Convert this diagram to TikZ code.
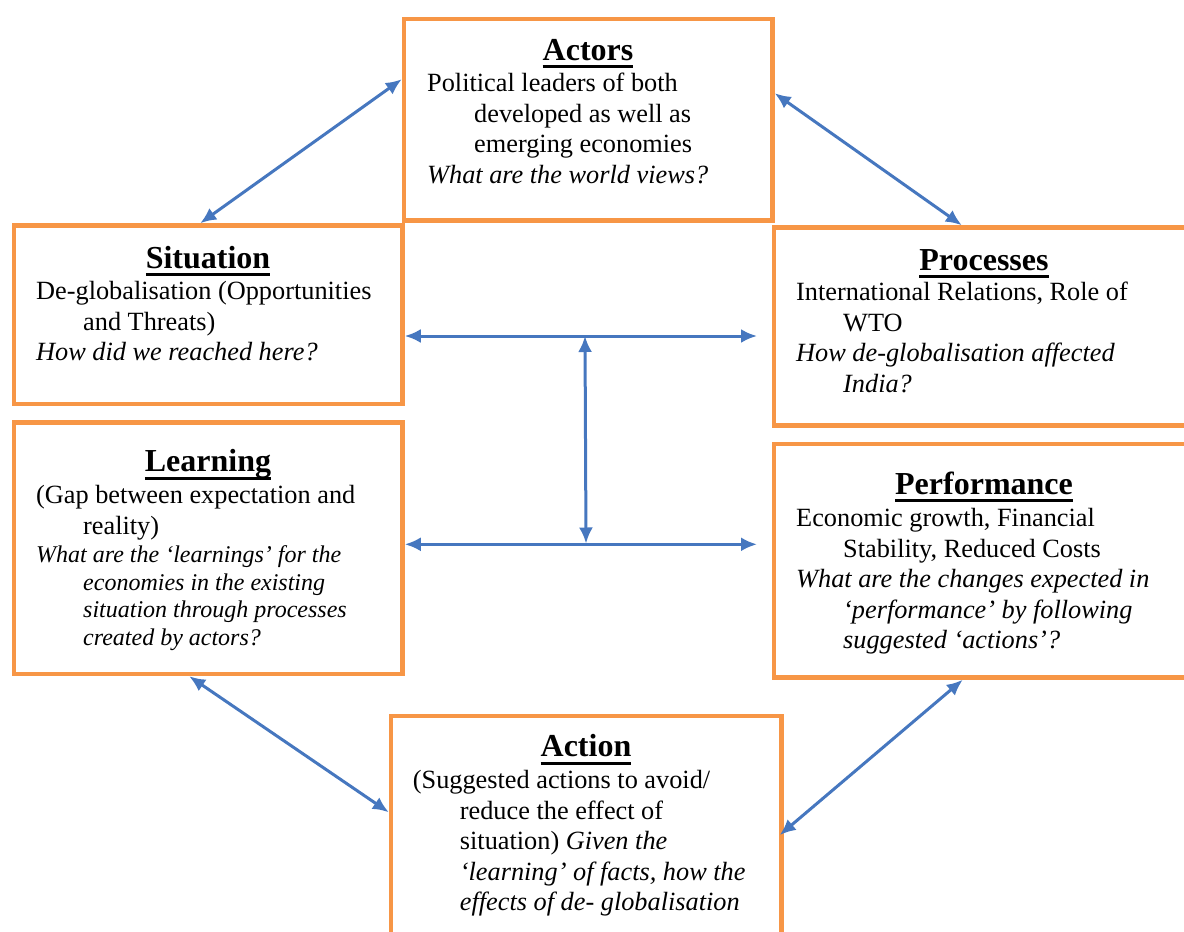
\documentclass[tikz,border=0pt]{standalone}
\usepackage{fontspec}
\setmainfont{Liberation Serif}
\usepackage{xcolor}
\usepackage{tikz}
\usetikzlibrary{arrows.meta,positioning}

\definecolor{boxorange}{HTML}{F79646}
\definecolor{linkblue}{HTML}{4677BF}

\newcommand{\headline}[1]{\setbox0=\hbox{#1}\rlap{\rule[-8bp]{\wd0}{3bp}}\box0}
\newcommand{\hangin}{\hspace*{47bp}}
\newcommand{\learnfont}{\fontsize{24bp}{27.5bp}\selectfont\itshape}

\begin{document}
\begin{tikzpicture}[x=1bp, y=-1bp, >={Latex[length=16bp,width=14bp]}]
 \tikzstyle{boxframe}=[draw=boxorange, line width=4.5bp, inner sep=0pt]
 \tikzstyle{headtext}=[font=\fontsize{32bp}{36bp}\selectfont\bfseries, anchor=base, inner sep=0pt]
 \tikzstyle{body}=[font=\fontsize{26.3bp}{30.5bp}\selectfont, align=left, anchor=north west, inner sep=0pt]
 \tikzstyle{twoway}=[<->, draw=linkblue, line width=3bp]

 \useasboundingbox (0,0) rectangle (1184,932);
 \clip (0,0) rectangle (1184,932);

 % the six boxes (right and bottom ones run off the page)
 \node[boxframe, minimum width=368.5bp, minimum height=201.5bp] (actors) at (588.25,119.75) {};
 \node[boxframe, minimum width=388.5bp, minimum height=178.5bp] (situation) at (208.25,314.75) {};
 \node[boxframe, minimum width=426bp, minimum height=198bp] (processes) at (987,326.5) {};
 \node[boxframe, minimum width=388.5bp, minimum height=251.5bp] (learning) at (208.25,548.25) {};
 \node[boxframe, minimum width=426bp, minimum height=233.5bp] (performance) at (987,560.75) {};
 \node[boxframe, minimum width=390.5bp, minimum height=244bp] (action) at (586.25,838) {};

 \coordinate (upR) at (757,336);
 \coordinate (lowR) at (757,544.3);
 \coordinate (upM) at (585,336);
 \coordinate (lowM) at (586,543.5);

 \draw[twoway] ([yshift=40.5bp]actors.west) -- ([xshift=-8bp]situation.north);
 \draw[twoway] ([yshift=26.5bp]actors.east) -- ([xshift=190bp]processes.north west);
 \draw[twoway] (situation.east |- upR) -- (upR);
 \draw[twoway] (learning.east |- lowR) -- (lowR);
 \draw[twoway] (upM) -- (lowM);
 \draw[twoway] ([xshift=-19bp]learning.south) -- ([yshift=-98.5bp]action.north west);
 \draw[twoway] ([xshift=191bp]performance.south west) -- ([xshift=-4bp,yshift=-121.3bp]action.north east);

 % titles
 \node[headtext] (actorsT) at (588,60) {\headline{Actors}};
 \node[headtext] (situationT) at (208,268) {\headline{Situation}};
 \node[headtext] (processesT) at (984,270) {\headline{Processes}};
 \node[headtext] (learningT) at (208,471.7) {\headline{Learning}};
 \node[headtext] (performanceT) at (984,494) {\headline{Performance}};
 \node[headtext] (actionT) at (586,756.7) {\headline{Action}};

 % box texts
 \node[body] (actorsB) at (427,70.4) {\strut Political leaders of both\\
   \hangin developed as well as\\
   \hangin emerging economies\\
   \itshape What are the world views?};
 \node[body] (situationB) at (36,278) {\strut De-globalisation (Opportunities\\
   \hangin and Threats)\\
   \itshape How did we reached here?};
 \node[body] (processesB) at (796,279.4) {\strut International Relations, Role of\\
   \hangin WTO\\
   \itshape How de-globalisation affected\\
   \itshape\hangin India?};
 \node[body] (learningB) at (36,482) {\strut (Gap between expectation and\\
   \hangin reality)\\[-2bp]
   \learnfont What are the `learnings' for the\\[-3bp]
   \learnfont\hangin economies in the existing\\[-3bp]
   \learnfont\hangin situation through processes\\[-3bp]
   \learnfont\hangin created by actors?};
 \node[body] (performanceB) at (796,505.4) {\strut Economic growth, Financial\\
   \hangin Stability, Reduced Costs\\
   \itshape What are the changes expected in\\
   \itshape\hangin `performance' by following\\
   \itshape\hangin suggested `actions'?};
 \node[body] (actionB) at (412.7,767) {\strut (Suggested actions to avoid/\\
   \hangin reduce the effect of\\
   \hangin situation) \textit{Given the}\\
   \itshape\hangin `learning' of facts, how the\\
   \itshape\hangin effects of de- globalisation};
\end{tikzpicture}
\end{document}
